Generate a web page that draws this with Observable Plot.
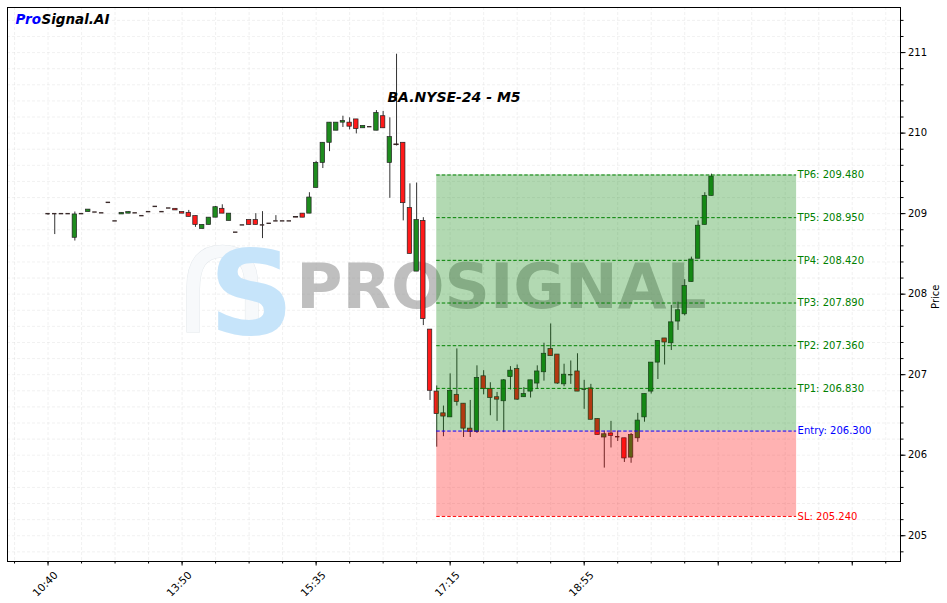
<!DOCTYPE html>
<html>
<head>
<meta charset="utf-8">
<script src="https://cdn.jsdelivr.net/npm/d3@7"></script>
<script src="https://cdn.jsdelivr.net/npm/@observablehq/plot@0.6"></script>
<style>
  html, body { margin: 0; padding: 0; background: #fff; }
  svg { display: block; }
</style>
</head>
<body>
<div id="chart"></div>
<script>
// ---- data ----
const opens  = [209.00,209.00,209.00,209.00,208.70,209.00,209.02,209.02,209.01,209.14,
                208.91,208.99,209.00,209.01,208.975,209.025,209.09,209.025,209.07,209.06,
                209.02,209.01,208.97,208.81,208.86,208.95,209.06,208.91,208.77,208.86,
                208.92,208.92,208.86,208.88,208.91,208.91,208.91,208.96,209.00,209.00,
                209.32,209.63,209.88,210.03,210.13,210.13,210.17,210.06,210.08,210.03,
                210.21,209.63,209.86,209.88,209.07,208.28,208.91,207.56,206.79,206.52,
                206.47,206.75,206.64,206.33,206.29,206.98,206.82,206.72,206.67,206.97,
                207.07,206.72,206.79,206.89,207.03,207.32,207.25,206.88,207.00,207.04,
                206.82,206.83,206.45,206.22,206.27,206.23,206.21,205.97,206.21,206.47,
                206.79,207.15,207.45,207.39,207.66,207.75,208.15,208.44,208.86,209.22];
const highs  = [209.00,209.00,209.00,209.00,209.02,209.00,209.05,209.02,209.01,209.14,
                208.91,209.01,209.02,209.01,208.975,209.025,209.09,209.025,209.07,209.06,
                209.02,209.04,208.97,208.86,208.95,209.09,209.11,209.00,208.77,208.86,
                208.92,209.00,209.025,208.88,208.975,208.91,208.91,208.96,209.00,209.26,
                209.65,209.88,210.13,210.13,210.21,210.19,210.17,210.09,210.08,210.28,
                210.27,210.19,210.98,209.88,209.37,209.38,208.95,207.56,206.86,206.61,
                207.01,207.32,206.64,206.68,207.11,207.05,206.90,206.78,206.94,207.10,
                207.12,206.84,206.93,207.11,207.39,207.63,207.25,207.13,207.17,207.26,
                206.93,206.88,206.45,206.30,206.42,206.30,206.21,206.27,206.52,206.76,
                207.15,207.42,207.45,207.86,207.90,208.18,208.46,208.91,209.26,209.49];
const lows   = [208.98,208.74,209.00,209.00,208.66,209.00,209.02,209.02,209.01,209.14,
                208.91,208.99,209.00,209.01,208.975,209.025,209.09,209.025,209.07,209.04,
                209.00,208.96,208.83,208.81,208.86,208.95,209.00,208.91,208.77,208.86,
                208.86,208.86,208.69,208.88,208.91,208.91,208.91,208.95,208.95,209.00,
                209.32,209.56,209.77,210.03,210.07,210.04,209.99,210.06,210.08,210.03,
                210.06,209.19,209.84,208.91,208.50,208.28,207.61,206.68,206.10,206.23,
                206.47,206.61,206.22,206.22,206.27,206.75,206.49,206.42,206.28,206.81,
                206.68,206.72,206.71,206.82,206.92,207.23,206.88,206.85,206.88,206.79,
                206.57,206.44,206.25,205.84,206.09,206.17,205.91,205.90,206.16,206.41,
                206.76,206.94,207.12,207.30,207.55,207.73,208.15,208.44,208.86,209.22];
const closes = [209.00,209.00,209.00,209.00,208.99,209.00,209.05,209.02,209.01,209.14,
                208.91,209.01,209.02,209.01,208.975,209.025,209.09,209.025,209.07,209.04,
                209.00,208.96,208.86,208.86,208.95,209.08,209.00,209.00,208.77,208.86,
                208.86,208.86,208.86,208.88,208.91,208.91,208.91,208.95,208.95,209.20,
                209.63,209.88,210.13,210.13,210.15,210.08,210.05,210.09,210.08,210.25,
                210.06,209.95,209.85,209.13,208.50,208.92,207.69,206.80,206.51,206.48,
                206.80,206.66,206.33,206.29,206.96,206.82,206.71,206.69,206.93,207.05,
                206.69,206.76,206.93,207.04,207.26,207.23,206.89,207.00,207.00,206.79,
                206.82,206.44,206.25,206.26,206.24,206.23,205.96,206.25,206.43,206.76,
                207.15,207.42,207.40,207.65,207.80,208.10,208.43,208.85,209.22,209.46];

const tickIndex  = [0, 20, 40, 60, 80, 100, 120];
const tickLabels = ["10:40", "13:50", "15:35", "17:15", "18:55", "", ""];
const priceTicks = [205, 206, 207, 208, 209, 210, 211];

const levelNames  = ["TP6", "TP5", "TP4", "TP3", "TP2", "TP1", "Entry", "SL"];
const levelValues = [209.48, 208.95, 208.42, 207.89, 207.36, 206.83, 206.30, 205.24];
const levelKinds  = ["tp", "tp", "tp", "tp", "tp", "tp", "entry", "sl"];

const zoneStart = 58;      // candle index where the trade zone begins
const zoneEnd   = 111.7;   // candle index where the trade zone ends
const entryPrice = 206.30, stopPrice = 205.24, targetPrice = 209.48;

const title = "BA.NYSE-24 - M5";

// ---- build tables ----
const candles = opens.map((o, i) => ({i, o, h: highs[i], l: lows[i], c: closes[i]}));
const bodies = candles.filter(d => d.o !== d.c);
const flats  = candles.filter(d => d.o === d.c);
const levels = levelNames.map((n, k) => ({name: n, value: levelValues[k], kind: levelKinds[k]}));
const kindColor = {tp: "green", entry: "blue", sl: "red"};
const hw = 0.33;

const chart = Plot.plot({
  width: 947,
  height: 603,
  marginLeft: 7,
  marginRight: 47,
  marginTop: 7,
  marginBottom: 42,
  x: {domain: [-6.05, 127.2]},
  y: {domain: [204.68, 211.56]},
  style: {fontFamily: "DejaVu Sans", fontSize: "10px", background: "#fff", color: "#000", overflow: "visible"},
  marks: [
    // grid
    Plot.gridX({ticks: d3.range(-5, 128, 5), stroke: "#d8d8d8", strokeOpacity: 0.35, strokeDasharray: "3,2"}),
    Plot.gridY({ticks: d3.range(204.8, 211.56, 0.2), stroke: "#d8d8d8", strokeOpacity: 0.35, strokeDasharray: "3,2"}),
    // logo watermark
    Plot.text(["∩"], {frameAnchor: "top-left", dx: 215, dy: 276, textAnchor: "middle", lineAnchor: "middle", fontSize: 150, fill: "#f7f9fb", stroke: "#e3e8ec", strokeWidth: 1, fontFamily: "DejaVu Sans"}),
    Plot.text(["S"], {frameAnchor: "top-left", dx: 244, dy: 289, textAnchor: "middle", lineAnchor: "middle", fontSize: 118, fontWeight: "bold", fill: "#c6e4fa", fontFamily: "DejaVu Sans"}),
    Plot.text(["PROSIGNAL"], {frameAnchor: "top-left", dx: 501 - 7, dy: 287 - 7, textAnchor: "middle", lineAnchor: "middle", fontSize: 63, fontWeight: "bold", fill: "#808080", fillOpacity: 0.5, fontFamily: "DejaVu Sans"}),
    // wicks
    Plot.ruleX(candles, {x: "i", y1: "l", y2: "h", stroke: "#333", strokeWidth: 1}),
    // bodies
    Plot.rect(bodies, {
      x1: d => d.i - hw, x2: d => d.i + hw,
      y1: d => Math.min(d.o, d.c), y2: d => Math.max(d.o, d.c),
      fill: d => d.c > d.o ? "#1e8c1e" : "#ff1a1a",
      stroke: "#222", strokeWidth: 0.7
    }),
    Plot.ruleY(flats, {y: "c", x1: d => d.i - hw, x2: d => d.i + hw, stroke: "#3a2a2a", strokeWidth: 1.4}),
    // trade zones
    Plot.rect([0], {x1: zoneStart, x2: zoneEnd, y1: entryPrice, y2: targetPrice, fill: "green", fillOpacity: 0.3}),
    Plot.rect([0], {x1: zoneStart, x2: zoneEnd, y1: stopPrice, y2: entryPrice, fill: "red", fillOpacity: 0.3}),
    // levels
    Plot.ruleY(levels, {y: "value", x1: zoneStart, x2: zoneEnd, stroke: d => kindColor[d.kind], strokeWidth: 1, strokeDasharray: "3.5,2"}),
    Plot.text(levels, {x: zoneEnd, y: "value", text: d => `${d.name}: ${d.value.toFixed(3)}`, fill: d => kindColor[d.kind], textAnchor: "start", dx: 1, fontSize: 10}),
    // axes
    Plot.axisX({ticks: d3.range(-5, 128, 5), tickSize: 2.5, tickFormat: () => "", stroke: "#000", label: null}),
    Plot.axisX({ticks: tickIndex, tickSize: 4.5, tickFormat: () => "", stroke: "#000", label: null}),
    Plot.axisX({ticks: tickIndex, tickSize: 0, tickFormat: (d) => tickLabels[tickIndex.indexOf(d)], tickRotate: -45, fontSize: 10.5, tickPadding: 6, dx: 8, dy: 6, label: null}),
    Plot.axisY({anchor: "right", ticks: d3.range(204.8, 211.56, 0.2), tickSize: 2.5, tickFormat: () => "", stroke: "#000", label: null}),
    Plot.axisY({anchor: "right", ticks: priceTicks, tickSize: 4.5, tickPadding: 3, tickFormat: d3.format("d"), fontSize: 10, stroke: "#000", label: null}),
    Plot.text(["Price"], {frameAnchor: "right", dx: 35, rotate: -90, fontSize: 10, fill: "#000"}),
    Plot.frame({stroke: "#000", strokeWidth: 1}),
    // titles
    Plot.text(["Pro"], {frameAnchor: "top-left", dx: 8, dy: 12, textAnchor: "start", lineAnchor: "middle", fontSize: 13.5, fontWeight: "bold", fontStyle: "italic", fill: "blue"}),
    Plot.text(["Signal.AI"], {frameAnchor: "top-left", dx: 34, dy: 12, textAnchor: "start", lineAnchor: "middle", fontSize: 13.5, fontWeight: "bold", fontStyle: "italic", fill: "#000"}),
    Plot.text([title], {frameAnchor: "top", dy: 90, lineAnchor: "middle", fontSize: 14, fontWeight: "bold", fontStyle: "italic", fill: "#000"})
  ]
});
document.getElementById("chart").appendChild(chart);
</script>
</body>
</html>
